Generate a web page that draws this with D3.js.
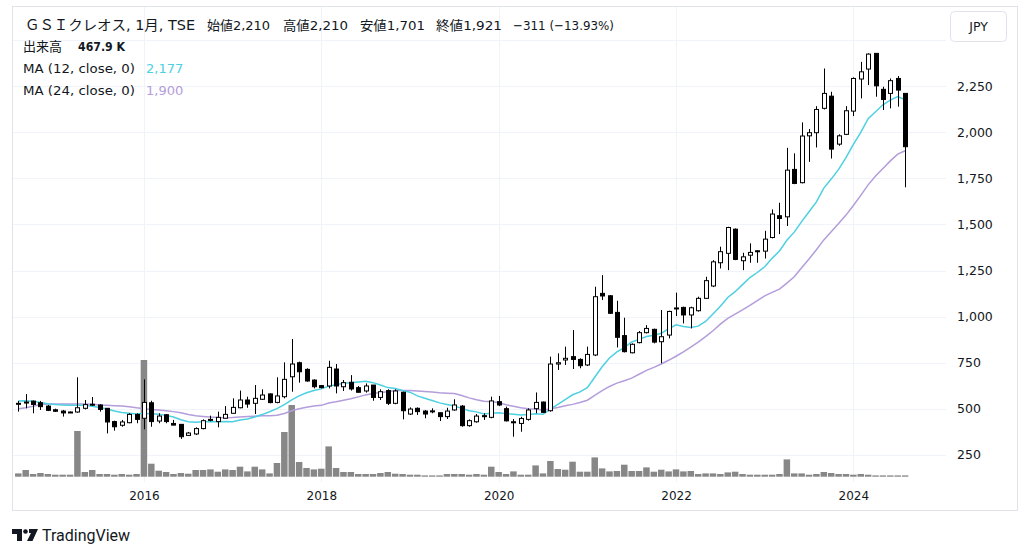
<!DOCTYPE html>
<html><head><meta charset="utf-8">
<script src="https://cdn.jsdelivr.net/npm/d3@7"></script>
<style>html,body{margin:0;padding:0;background:#fff;}svg{display:block;}</style>
</head><body><svg id="c" width="1024" height="557"></svg>
<script>
// ---- data (monthly, first bar 2014-08) ----
const startYear = 2014, startMonth = 8;
const open  = [525,534,542,533,515,495,488,481,483,503,524,521,503,431,411,425,470,449,533,434,468,421,416,356,364,393,440,431,449,476,506,548,530,552,581,535,566,674,750,714,656,626,624,716,620,644,615,597,629,562,599,530,590,472,503,488,489,479,458,494,515,409,430,463,454,539,501,430,421,443,501,537,490,743,765,783,768,738,792,1126,1113,1023,897,804,859,913,931,864,900,1042,1050,1009,1032,1099,1166,1292,1343,1474,1303,1333,1355,1355,1429,1547,1541,1798,1726,1980,1997,2129,2195,1935,1988,2114,2288,2342,2427,2232,2210,2291,2210];
const high  = [543,580,545,543,521,501,494,486,671,548,564,525,503,436,440,476,476,660,544,476,472,440,418,375,400,443,463,485,515,557,599,566,629,606,584,671,752,879,756,720,660,629,761,743,656,683,624,638,629,606,606,606,593,508,508,494,503,479,506,552,521,443,472,476,566,570,512,445,457,503,589,539,783,801,837,927,774,837,1162,1225,1117,1086,994,855,922,954,935,1036,1032,1130,1054,1054,1108,1216,1306,1379,1487,1478,1346,1397,1361,1465,1581,1617,1915,1885,2053,2017,2141,2345,2219,1988,2141,2297,2381,2427,2427,2246,2291,2304,2210];
const low   = [485,503,476,494,488,483,458,480,479,497,515,485,367,382,403,422,422,389,403,422,422,411,337,353,358,389,432,400,449,476,503,506,472,548,530,530,557,593,642,647,611,611,611,584,597,599,588,588,544,548,521,525,443,467,467,449,476,434,445,490,403,403,425,440,449,515,432,349,376,436,476,479,485,711,738,716,720,732,786,1090,1014,833,806,801,855,909,855,747,882,1003,963,936,1027,1099,1160,1261,1252,1306,1252,1292,1292,1315,1424,1447,1491,1718,1722,1839,1917,2123,1857,1926,1984,2087,2183,2255,2192,2120,2129,2138,1701];
const close = [530,537,524,512,492,487,478,483,506,523,525,497,429,403,429,470,443,535,431,461,431,412,349,369,393,436,443,454,470,508,548,526,557,575,534,570,660,743,701,651,620,615,725,624,642,608,590,624,562,593,530,597,490,499,485,472,488,458,488,521,409,436,461,458,543,521,435,425,448,494,535,481,743,750,774,768,734,795,1108,1112,1018,888,810,850,913,936,862,891,1028,1047,1009,1048,1099,1195,1297,1352,1483,1310,1324,1348,1357,1420,1556,1532,1794,1722,1979,1997,2123,2210,1908,1980,2116,2291,2327,2423,2251,2177,2279,2228,1921];
const volumeK = [1190,2410,970,1330,970,720,720,720,16450,1690,2410,970,970,720,970,720,970,42010,4680,2160,1690,970,1330,1080,2410,2410,2630,1800,2630,2410,3600,1910,3600,2630,1190,4930,16090,25810,5290,3130,2630,2880,10910,3130,1690,1690,970,970,970,1330,1690,1080,970,720,720,470,470,470,970,970,970,720,970,720,3600,1690,970,1910,720,720,4070,1190,5650,2770,2520,5400,1800,1800,6950,2990,1910,2050,4320,2050,2050,3350,1800,2520,1910,2630,1910,2050,970,1190,1190,970,1550,1800,970,720,720,720,720,970,6230,1190,1190,720,970,1690,1330,970,970,720,970,720,470,470,470,470,468];
const ma12Head = [543,544,541,534,528,523,521,519,519,519,514];
const ma24Head = [501,506,514,523,526,526,526,526,526,526,525,521,519,517,515,512,506,501,497,494,490,485,479];
const priceTicks = [250,500,750,1000,1250,1500,1750,2000,2250];
const gridTicks = [250,500,750,1000,1250,1500,1750,2000,2250,2500];
const yearLabels = [2016,2018,2020,2022,2024];

// ---- layout ----
const svg = d3.select("#c");
const W = 1024, H = 557;
const frame = {l:12, t:6, r:1018, b:511};
const paneRight = 946, paneBottom = 482;
const n = close.length;
const x = d3.scaleLinear().domain([0, 120]).range([18.3, 905.1]);
const y = d3.scaleLinear().domain([0, 2500]).range([501.1, 39.9]);
const yv = d3.scaleLinear().domain([0, 42010]).range([476.7, 360]);
const FONT = "'DejaVu Sans', 'Noto Sans CJK JP', sans-serif";
const TXT = "#131722";

svg.append("rect").attr("width", W).attr("height", H).attr("fill", "#fff");
svg.append("rect").attr("x", frame.l + 0.5).attr("y", frame.t + 0.5)
  .attr("width", frame.r - frame.l - 1).attr("height", frame.b - frame.t - 1)
  .attr("fill", "#fff").attr("stroke", "#e0e3eb");

// grid
const grid = svg.append("g");
grid.selectAll("line.h").data(gridTicks).join("line")
  .attr("x1", frame.l + 1).attr("x2", paneRight)
  .attr("y1", d => Math.round(y(d)) + 0.5).attr("y2", d => Math.round(y(d)) + 0.5)
  .attr("stroke", "#f0f3fa");
const yearIdx = yearLabels.map(yr => (yr - startYear) * 12 + (1 - startMonth));
grid.selectAll("line.v").data(yearIdx).join("line")
  .attr("x1", d => Math.round(x(d)) + 0.5).attr("x2", d => Math.round(x(d)) + 0.5)
  .attr("y1", frame.t + 1).attr("y2", paneBottom)
  .attr("stroke", "#f0f3fa");

// volume
const idx = d3.range(n);
svg.append("g").selectAll("rect").data(idx).join("rect")
  .attr("x", i => x(i) - 3.25).attr("width", 6.5)
  .attr("y", i => yv(volumeK[i])).attr("height", i => yv(0) - yv(volumeK[i]))
  .attr("fill", "#878787");

// moving averages
function ma(period, head) {
  return idx.map(i => i < head.length ? head[i] : d3.mean(close.slice(i - period + 1, i + 1)));
}
const ma12 = ma(12, ma12Head), ma24 = ma(24, ma24Head);
const line = d3.line().x((d, i) => x(i)).y(d => y(d));
svg.append("path").attr("d", line(ma24)).attr("fill", "none").attr("stroke", "#b39ddb").attr("stroke-width", 1.5);
svg.append("path").attr("d", line(ma12)).attr("fill", "none").attr("stroke", "#4dd0e1").attr("stroke-width", 1.5);

// candles
const cg = svg.append("g").selectAll("g").data(idx).join("g");
cg.append("line")
  .attr("x1", i => Math.round(x(i)) + 0.5).attr("x2", i => Math.round(x(i)) + 0.5)
  .attr("y1", i => y(high[i])).attr("y2", i => y(low[i]))
  .attr("stroke", "#000").attr("stroke-width", 1);
cg.append("rect")
  .attr("x", i => Math.round(x(i)) - 1.5).attr("width", 4)
  .attr("y", i => y(Math.max(open[i], close[i])))
  .attr("height", i => Math.max(1, Math.abs(y(open[i]) - y(close[i]))))
  .attr("fill", i => close[i] >= open[i] ? "#fff" : "#000")
  .attr("stroke", "#000").attr("stroke-width", 1);

// price axis
const ya = d3.axisRight(y).tickValues(priceTicks).tickSize(0).tickPadding(11).tickFormat(d3.format(","));
const yag = svg.append("g").attr("transform", `translate(${paneRight},0)`).call(ya);
yag.select(".domain").remove();
yag.selectAll("text").attr("font-family", FONT).attr("font-size", 12.5).attr("fill", TXT);

// time axis
const xa = d3.axisBottom(x).tickValues(yearIdx).tickSize(0).tickPadding(9).tickFormat((d, i) => yearLabels[i]);
const xag = svg.append("g").attr("transform", `translate(0,${paneBottom})`).call(xa);
xag.select(".domain").remove();
xag.selectAll("text").attr("font-family", FONT).attr("font-size", 12).attr("font-weight", 500).attr("fill", TXT);

// JPY box
svg.append("rect").attr("x", 950.5).attr("y", 11.5).attr("width", 56).attr("height", 30).attr("rx", 4)
  .attr("fill", "#fff").attr("stroke", "#e0e3eb");
svg.append("text").attr("x", 978.5).attr("y", 31).attr("text-anchor", "middle")
  .attr("font-family", FONT).attr("font-size", 12.5).attr("fill", TXT).text("JPY");

// legend
const leg = svg.append("g").attr("font-family", FONT).attr("fill", TXT);
const head = [["ＧＳＩクレオス, 1月, TSE", 25, 170, 14], ["始値2,210", 207, 63, 13], ["高値2,210", 283, 65, 13],
              ["安値1,701", 360, 65, 13], ["終値1,921", 436, 66, 13], ["−311 (−13.93%)", 513, 101, 13]];
leg.selectAll("text.h").data(head).join("text").attr("x", d => d[1]).attr("y", 30)
  .attr("font-size", d => d[3]).attr("textLength", d => d[2]).attr("lengthAdjust", "spacingAndGlyphs")
  .text(d => d[0]);
leg.append("text").attr("x", 23).attr("y", 51).attr("font-size", 13).text("出来高");
leg.append("text").attr("x", 78).attr("y", 51).attr("font-size", 13).attr("font-weight", 600)
  .attr("textLength", 47).attr("lengthAdjust", "spacingAndGlyphs").text("467.9 K");
leg.append("text").attr("x", 23).attr("y", 73).attr("font-size", 13)
  .attr("textLength", 112).attr("lengthAdjust", "spacingAndGlyphs").text("MA (12, close, 0)");
leg.append("text").attr("x", 146).attr("y", 73).attr("font-size", 13).attr("fill", "#4dd0e1").text("2,177");
leg.append("text").attr("x", 23).attr("y", 95).attr("font-size", 13)
  .attr("textLength", 112).attr("lengthAdjust", "spacingAndGlyphs").text("MA (24, close, 0)");
leg.append("text").attr("x", 146).attr("y", 95).attr("font-size", 13).attr("fill", "#b39ddb").text("1,900");

// TradingView logo
const lg = svg.append("g").attr("fill", TXT);
lg.append("path").attr("d", "M12 529 H22 V541 H17 V534 H12 Z");
lg.append("circle").attr("cx", 25.5).attr("cy", 531.5).attr("r", 2.3);
lg.append("path").attr("d", "M29 529 H38 L32.5 541 H27 L31 533 H29 Z");
svg.append("text").attr("x", 42).attr("y", 541).attr("font-family", "Roboto, sans-serif").attr("font-size", 16)
  .attr("fill", TXT).text("TradingView");
</script></body></html>
